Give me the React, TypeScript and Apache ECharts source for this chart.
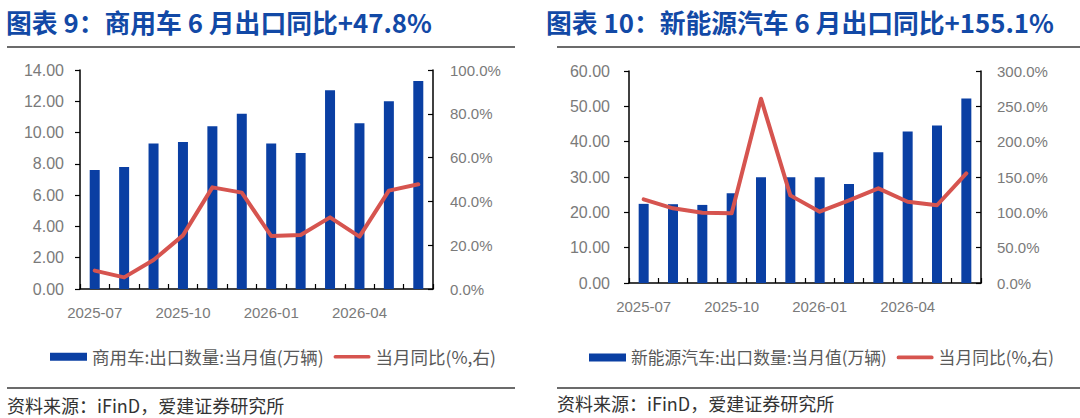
import React, { useEffect, useRef } from "react";
import * as echarts from "echarts";

const categories = [
  "2025-07", "2025-08", "2025-09", "2025-10", "2025-11", "2025-12",
  "2026-01", "2026-02", "2026-03", "2026-04", "2026-05", "2026-06",
];

// Chart 9: commercial vehicles
const cvExports = [7.6, 7.8, 9.3, 9.4, 10.4, 11.2, 9.3, 8.7, 12.7, 10.6, 12.0, 13.3];
const cvYoY = [8.4, 5.3, 13.2, 24.5, 46.4, 44.0, 24.2, 24.7, 32.7, 23.9, 44.9, 47.8];

// Chart 10: new energy vehicles
const nevExports = [22.4, 22.3, 22.1, 25.4, 29.9, 29.9, 29.9, 28.0, 37.0, 42.9, 44.6, 52.2];
const nevYoY = [118.4, 105.7, 99.5, 98.6, 260.8, 124.0, 100.9, 117.0, 134.0, 115.0, 110.0, 155.1];

const title9 = "图表 9：商用车 6 月出口同比+47.8%";
const title10 = "图表 10：新能源汽车 6 月出口同比+155.1%";
const source = "资料来源：iFinD，爱建证券研究所";
const cvBarName = "商用车:出口数量:当月值(万辆)";
const nevBarName = "新能源汽车:出口数量:当月值(万辆)";
const yoyName = "当月同比(%,右)";

const BLUE = "#0a3fa3";
const RED = "#d6544f";
const TITLE = "#1249a6";
const LABEL = "#7a7a7a";
const FONT = "'Liberation Sans', 'Noto Sans CJK SC', sans-serif";
const CJK = "'Noto Sans CJK SC', sans-serif";
const LINE_ICON = "path://M2,0 L38,0 A2,2 0 0 1 38,4 L2,4 A2,2 0 0 1 2,0 Z";

export default function App() {
  const ref = useRef<HTMLDivElement>(null);
  useEffect(() => {
    document.body.style.margin = "0";
    const chart = echarts.init(ref.current!, undefined, { renderer: "svg" });

    const xAxisBase = (gridIndex: number) => ({
      type: "category" as const,
      gridIndex,
      data: categories,
      boundaryGap: true,
      axisLine: { lineStyle: { color: "#000", width: 1.5 } },
      axisTick: { show: true, inside: true, length: 5, interval: 0, lineStyle: { color: "#000", width: 1.2 } },
      axisLabel: { interval: 2, color: LABEL, fontSize: 15, fontFamily: FONT, margin: 16 },
      splitLine: { show: false },
    });

    const yAxisBase = (gridIndex: number, pos: "left" | "right", max: number, interval: number, fmt: (v: number) => string, margin: number) => ({
      type: "value" as const,
      gridIndex,
      position: pos,
      min: 0,
      max,
      interval,
      axisLine: { show: true, lineStyle: { color: "#000", width: 1.5 } },
      axisTick: { show: true, inside: pos === "right", length: 5, lineStyle: { color: "#000", width: 1.2 } },
      axisLabel: { color: LABEL, fontSize: pos === "left" ? 16 : 15, fontFamily: FONT, margin, formatter: fmt },
      splitLine: { show: false },
    });

    const fmt2 = (v: number) => v.toFixed(2);
    const fmtPct = (v: number) => v.toFixed(1) + "%";

    const legendBase = (left: number, top: number, barName: string, size: number) => ({
      left,
      top,
      itemWidth: 37,
      itemHeight: 8,
      itemGap: 10,
      symbolKeepAspect: true,
      textStyle: { color: "#595959", fontSize: size, fontFamily: CJK },
      data: [{ name: barName, icon: "rect" }, { name: yoyName, icon: LINE_ICON }],
      selectedMode: false,
    });

    const rule = (x1: number, x2: number, y: number) => ({
      type: "line",
      shape: { x1, y1: y, x2, y2: y },
      style: { stroke: "#3a3a3a", lineWidth: 1.5 },
    });
    const txt = (x: number, y: number, text: string, size: number, color: string, weight: string) => ({
      type: "text",
      x,
      y,
      style: { text, fill: color, fontSize: size, fontWeight: weight, fontFamily: CJK, textVerticalAlign: "middle" },
    });

    chart.setOption({
      animation: false,
      backgroundColor: "#fff",
      grid: [
        { left: 80, right: 1080 - 433, top: 70, bottom: 418 - 289, containLabel: false },
        { left: 629, right: 1080 - 981, top: 71, bottom: 418 - 283, containLabel: false },
      ],
      xAxis: [xAxisBase(0), xAxisBase(1)],
      yAxis: [
        yAxisBase(0, "left", 14, 2, fmt2, 16),
        yAxisBase(0, "right", 100, 20, fmtPct, 17),
        yAxisBase(1, "left", 60, 10, fmt2, 19),
        yAxisBase(1, "right", 300, 50, fmtPct, 16),
      ],
      legend: [
        legendBase(45, 343, cvBarName, 17.5),
        legendBase(584, 344, nevBarName, 16.8),
      ],
      series: [
        {
          name: cvBarName, type: "bar", xAxisIndex: 0, yAxisIndex: 0,
          data: cvExports, barWidth: 10, itemStyle: { color: BLUE },
        },
        {
          name: yoyName, type: "line", xAxisIndex: 0, yAxisIndex: 1,
          data: cvYoY, symbol: "none", lineStyle: { color: RED, width: 4, cap: "round", join: "round" },
          itemStyle: { color: RED },
        },
        {
          name: nevBarName, type: "bar", xAxisIndex: 1, yAxisIndex: 2,
          data: nevExports, barWidth: 10, itemStyle: { color: BLUE },
        },
        {
          name: yoyName, type: "line", xAxisIndex: 1, yAxisIndex: 3,
          data: nevYoY, symbol: "none", lineStyle: { color: RED, width: 4, cap: "round", join: "round" },
          itemStyle: { color: RED },
        },
      ],
      graphic: [
        txt(6, 21, title9, 25.8, TITLE, "bold"),
        txt(546, 21, title10, 25.8, TITLE, "bold"),
        rule(7, 515, 47),
        rule(557, 1080, 47),
        rule(7, 515, 388),
        rule(557, 1080, 388),
        txt(7, 405, source, 18, "#333", "normal"),
        txt(557, 403, source, 18, "#333", "normal"),
      ],
    });
    return () => chart.dispose();
  }, []);
  return <div ref={ref} style={{ width: 1080, height: 418 }} />;
}
